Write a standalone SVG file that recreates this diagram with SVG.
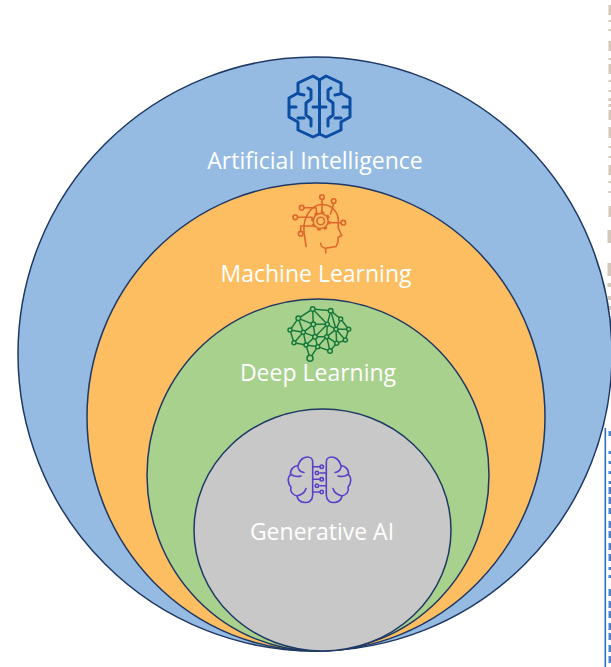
<svg xmlns="http://www.w3.org/2000/svg" width="611" height="667" viewBox="0 0 611 667">
<style>
.ring{stroke:#1f3864;stroke-width:1.5}
.lbl{font-family:"Open Sans","Noto Sans",sans-serif;font-size:23px;fill:#fff;text-anchor:middle}
.ic{fill:none;stroke-linecap:round;stroke-linejoin:round}
.tan{fill:#c3b5a6;opacity:.75}
.blu{fill:#2f6cc4}
</style>
<rect width="611" height="667" fill="#fff"/>
<g id="margin-marks">
<path class="tan" d="M608.500 5h2.500v10h-2.500zM608.500 20h2.500v2h-2.500zM608.500 29h2.500v2h-2.500zM608.500 41h2.500v10h-2.500zM608.500 58h2.500v2h-2.500zM608.500 64h2.500v10h-2.500zM608.500 80h2.500v2h-2.500zM608.500 90h2.500v2h-2.500zM608.500 98h2.500v3h-2.500zM608.500 104h2.500v3h-2.500zM608.500 110h2.500v10h-2.500zM608.500 127h2.500v11h-2.500zM608.500 146h2.500v2h-2.500zM608.500 156h2.500v2h-2.500zM608.500 165h2.500v10h-2.500zM608.500 181h2.500v2h-2.500zM608.500 191h2.500v2h-2.500zM608.500 206h2.500v11h-2.500zM607.500 230h3.500v13h-3.500zM607.500 263h3.500v13h-3.500zM607.500 283h3.500v4h-3.500zM607.500 296h3.500v4h-3.500zM607.500 306h3.500v4h-3.500zM607.500 316h3.500v4h-3.500z"/>
<rect x="604.500" y="428" width="1.600" height="239" class="blu"/>
<path class="blu" opacity=".85" d="M608.500 431h2.500v5h-2.500zM608.500 451h2.500v3h-2.500zM608.500 461h2.500v3h-2.500zM608.500 471h2.500v3h-2.500zM608.500 481h2.500v3h-2.500zM608.500 487h2.500v7h-2.500zM608.500 497h2.500v7h-2.500zM608.500 508h2.500v6h-2.500zM608.500 521h2.500v7h-2.500zM608.500 531h2.500v7h-2.500zM608.500 543h2.500v7h-2.500zM608.500 554h2.500v7h-2.500zM608.500 567h2.500v3h-2.500zM608.500 575h2.500v3h-2.500zM608.500 589h2.500v7h-2.500zM608.500 601h2.500v7h-2.500zM608.500 611h2.500v7h-2.500zM608.500 623h2.500v7h-2.500zM608.500 633h2.500v7h-2.500zM608.500 645h2.500v7h-2.500zM608.500 656h2.500v7h-2.500z"/>
</g>
<g id="artificial-intelligence">
<ellipse class="ring" cx="315" cy="354" rx="297" ry="297" fill="#95bbe3"/>
<g class="ic" stroke="#0b4da2" stroke-width="3">
<path d="M319.500 80L313 76L298 83V93L289 98V117L298 122V130L313 137L319.500 134M319.500 80L326 76L341 83V93L350 98V117L341 122V130L326 137L319.500 134M319.500 80V134"/>
<path d="M308 88L311 90V99L306 103V115L311 119V126M299 94L304 95M290 107H296M298 118L304 118M313 107H326M328 126V119L333 115V103L328 99V90L331 88M335 95L340 94M343 107H349M335 118L341 118"/>
</g>
<text class="lbl" x="315" y="169">Artificial Intelligence</text>
</g>
<g id="machine-learning">
<ellipse class="ring" cx="316" cy="417" rx="229" ry="234" fill="#fdbe62"/>
<g class="ic" stroke="#e0662a" stroke-width="1.600">
<circle cx="322" cy="197" r="2.300"/><circle cx="333.700" cy="201" r="2.300"/><circle cx="301.700" cy="207.700" r="2.300"/><circle cx="295.300" cy="217.300" r="2.300"/><circle cx="343.300" cy="222.700" r="2.300"/><circle cx="300.700" cy="233.700" r="2.300"/>
<circle cx="320.700" cy="221" r="3.800"/>
<circle cx="320.700" cy="221" r="8.800" stroke-width="2" stroke-dasharray="3.500 3.400" stroke-linecap="butt"/>
<circle cx="320.700" cy="221" r="7.500"/>
<path d="M306 246.500C306 240 303 236 304 226C305 213 314 204 323 204.500C332 205 338 212 338.300 220V228L341.700 235.500L338 237.500V242L336 246.500L325.500 248.300C322 248 320.700 245 320.700 243.300M325.700 248.300V253"/>
<path d="M322 199.500V212M333.700 203.500L330.500 214M304 207.700H316L316.500 212.500M297.700 217.300H312M341 222.700H330M300.700 231.300V226H312"/>
</g>
<text class="lbl" x="316" y="282">Machine Learning</text>
</g>
<g id="deep-learning">
<ellipse class="ring" cx="318" cy="475" rx="171" ry="176" fill="#a9d18e"/>
<g class="ic" stroke="#167a3c" transform="translate(270 295) scale(.3333)">
<path stroke-width="4.500" d="M128 42L182 47L212 72L236 103L226 135L200 145L180 168L143 155L120 190M128 42L85 70L60 105L72 143L108 150L143 155M128 42L130 88L172 88L182 47M128 42L172 88M85 70L130 88L100 112L60 105M85 70L100 112L72 143M100 112L108 150L135 125L100 112M130 88L135 125L172 88L170 125L135 125L143 155L170 125L180 168M108 150L120 190M172 88L198 103L182 47M198 103L212 72M198 103L236 103M198 103L226 135M198 103L170 125L200 145L198 103M200 145L226 135M130 88L100 112"/>
</g>
<g fill="#a9d18e" stroke="#167a3c" stroke-width="1.500">
<circle cx="312.700" cy="309" r="2.300"/><circle cx="330.700" cy="310.700" r="2.300"/><circle cx="298.300" cy="318.300" r="2.300"/><circle cx="340.700" cy="319" r="2"/><circle cx="313.300" cy="324.300" r="2.300"/><circle cx="327.300" cy="324.300" r="2"/><circle cx="290" cy="330" r="2"/><circle cx="303.300" cy="332.300" r="2"/><circle cx="336" cy="329.300" r="2"/><circle cx="348.700" cy="329.300" r="2"/><circle cx="315" cy="336.700" r="2.300"/><circle cx="326.700" cy="336.700" r="2"/><circle cx="294" cy="342.700" r="2"/><circle cx="306" cy="345" r="2"/><circle cx="317.700" cy="346.700" r="2"/><circle cx="336.700" cy="343.300" r="2"/><circle cx="345.300" cy="340" r="2"/><circle cx="330" cy="351" r="2.300"/><circle cx="310" cy="358.300" r="3"/>
</g>
<text class="lbl" x="318" y="381">Deep Learning</text>
</g>
<g id="generative-ai">
<ellipse class="ring" cx="322.500" cy="530" rx="128.500" ry="121" fill="#c8c8c8"/>
<g class="ic" stroke="#5b3fc9" stroke-width="1.600">
<path d="M312.700 462V495C312.700 500 309 503 304.500 502.500C300 502 297.500 499 297 496C292.500 495 289.500 491 291 487C288 484 287 478 290.500 474.500C290 469 294 466 298 465.500C299.500 459.500 304 457 307.500 457C310.500 457 312.700 459 312.700 462ZM297 496C301 495 305 492 306 488.500M291 474.500C294 476.500 297.500 477 301 476M298 465.500C297.500 469 300 472 304 472.500"/>
<path d="M326.300 462V495C326.300 500 330 503 334.500 502.500C339 502 341.500 499 342 496C346.500 495 349.500 491 348 487C351 484 352 478 348.500 474.500C349 469 345 466 341 465.500C339.500 459.500 335 457 331.500 457C328.500 457 326.300 459 326.300 462ZM342 496C338 495 334 492 333 488.500M348 474.500C345 476.500 341.500 477 338 476M341 465.500C341.500 469 339 472 335 472.500"/>
<path d="M312.700 466.700H319.500M326.300 473H320M312.700 479.300H319.500M326.300 485.700H320M312.700 492H319.500"/>
<circle cx="321.700" cy="466.700" r="1.700"/><circle cx="317" cy="473" r="1.700"/><circle cx="321.700" cy="479.300" r="1.700"/><circle cx="317" cy="485.700" r="1.700"/><circle cx="321.700" cy="492" r="1.700"/>
</g>
<text class="lbl" x="322" y="540">Generative AI</text>
</g>
</svg>
